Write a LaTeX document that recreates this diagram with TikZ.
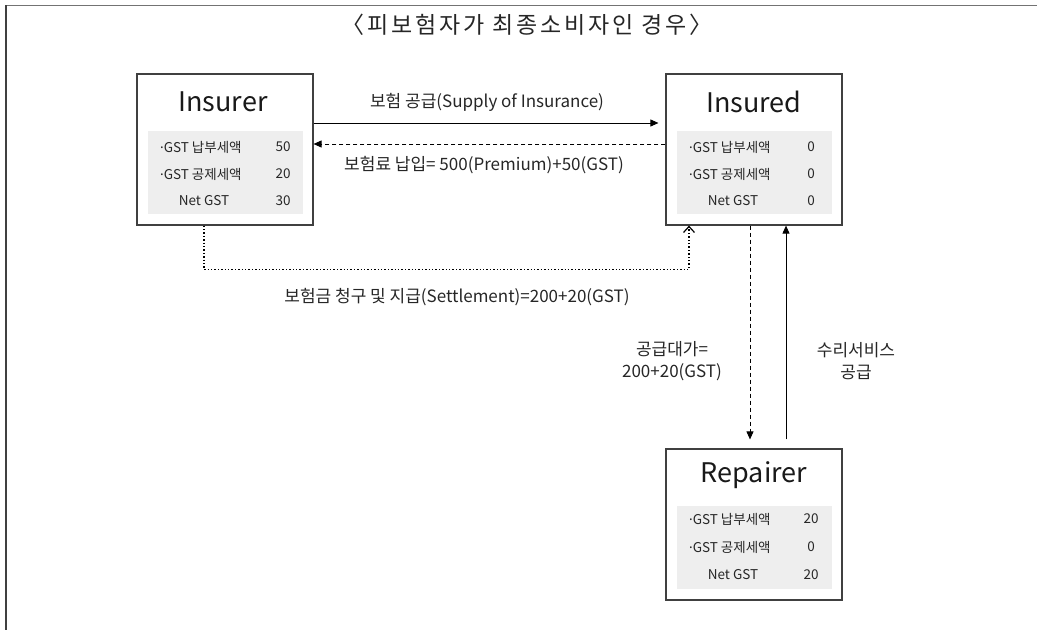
\documentclass[tikz,border=0pt]{standalone}
\usepackage{fontspec}
\setmainfont{Noto Sans CJK KR}
\newfontfamily\titlefont[LetterSpace=12]{Noto Sans CJK KR}
\newfontfamily\latinfont{Noto Sans}
\newcommand{\bul}{{\latinfont ·}}
\usetikzlibrary{arrows.meta}
\begin{document}
\begin{tikzpicture}[x=1pt,y=-1pt,
  box/.style={draw=black!75, line width=1.2pt, minimum width=176pt, minimum height=151pt, inner sep=0pt},
  panel/.style={fill=gray!13, minimum width=155pt, minimum height=83pt, inner sep=0pt},
  head/.style={font=\fontsize{27}{30}\selectfont, inner sep=0pt, text=black!90},
  row/.style={font=\fontsize{13.5}{15}\selectfont, inner sep=0pt, text=black!85},
  lbl/.style={font=\fontsize{17}{22}\selectfont, inner sep=0pt, text=black!85, align=center},
  conn/.style={line width=0.9pt, black},
  dsh/.style={dash pattern=on 4pt off 3pt},
  tri/.style={-{Triangle[length=8pt,width=7pt]}},
  barb/.style={-{Straight Barb[length=6pt,width=11pt,line width=1.2pt]}}
]
\useasboundingbox (0,0) rectangle (1037,630);
% frame
\draw[line width=1.8pt, black!55] (5,5.5) -- (1037,5.5);
\draw[line width=2pt, black!75] (5.5,5) -- (5.5,630);
\node[font=\titlefont\fontsize{23}{26}\selectfont, text=black!85, inner sep=0pt] (title) at (527,25) {〈피보험자가 최종소비자인 경우〉};

% Insurer
\node[box] (insurer) at (225,149.5) {};
\node[panel] (insurerpanel) at (225,172.5) {};
\node[head] (insurerhead) at (223,102) {Insurer};
\node[row, anchor=west] (insurerr1) at (160,147) {\bul GST 납부세액};
\node[row, anchor=west] (insurerr2) at (160,174) {\bul GST 공제세액};
\node[row] (insurerr3) at (204,201) {Net GST};
\node[row] (insurerv1) at (283,147) {50};
\node[row] (insurerv2) at (283,174) {20};
\node[row] (insurerv3) at (283,201) {30};

% Insured
\node[box] (insured) at (754,149.5) {};
\node[panel] (insuredpanel) at (754.5,172.5) {};
\node[head] (insuredhead) at (754,102) {Insured};
\node[row, anchor=west] (insuredr1) at (689,147) {\bul GST 납부세액};
\node[row, anchor=west] (insuredr2) at (689,174) {\bul GST 공제세액};
\node[row] (insuredr3) at (733,201) {Net GST};
\node[row] (insuredv1) at (811,147) {0};
\node[row] (insuredv2) at (811,174) {0};
\node[row] (insuredv3) at (811,201) {0};

% Repairer
\node[box] (repairer) at (754,524.5) {};
\node[panel] (repairerpanel) at (754.5,547) {};
\node[head] (repairerhead) at (754,475) {Repairer};
\node[row, anchor=west] (repairerr1) at (689,519) {\bul GST 납부세액};
\node[row, anchor=west] (repairerr2) at (689,547) {\bul GST 공제세액};
\node[row] (repairerr3) at (733,575) {Net GST};
\node[row] (repairerv1) at (811,519) {20};
\node[row] (repairerv2) at (811,547) {0};
\node[row] (repairerv3) at (811,575) {20};

% connectors
\draw[conn, tri, shorten >=7pt] ([yshift=26.5pt]insurer.east) -- ([yshift=26.5pt]insured.west);
\node[lbl] (supply) at (487,102) {보험 공급(Supply of Insurance)};
\draw[conn, tri, dsh] ([yshift=5.5pt]insured.west) -- ([yshift=5.5pt]insurer.east);
\node[lbl] (premium) at (484,165) {보험료 납입= 500(Premium)+50(GST)};

\draw[line width=1.4pt, dotted, barb] ([xshift=-21pt]insurer.south) -- ++(0,44) -| ([xshift=-65pt]insured.south);
\node[lbl] (settle) at (457,297) {보험금 청구 및 지급(Settlement)=200+20(GST)};

\draw[conn, tri, dsh, shorten >=9pt] ([xshift=-4pt]insured.south) -- ([xshift=-4pt]repairer.north);
\node[lbl] (price) at (672,361) {공급대가=\\200+20(GST)};
\draw[conn, tri, shorten <=9pt] ([xshift=32pt]repairer.north) -- ([xshift=32pt]insured.south);
\node[lbl] (repair) at (856,361) {수리서비스\\공급};
\end{tikzpicture}
\end{document}
